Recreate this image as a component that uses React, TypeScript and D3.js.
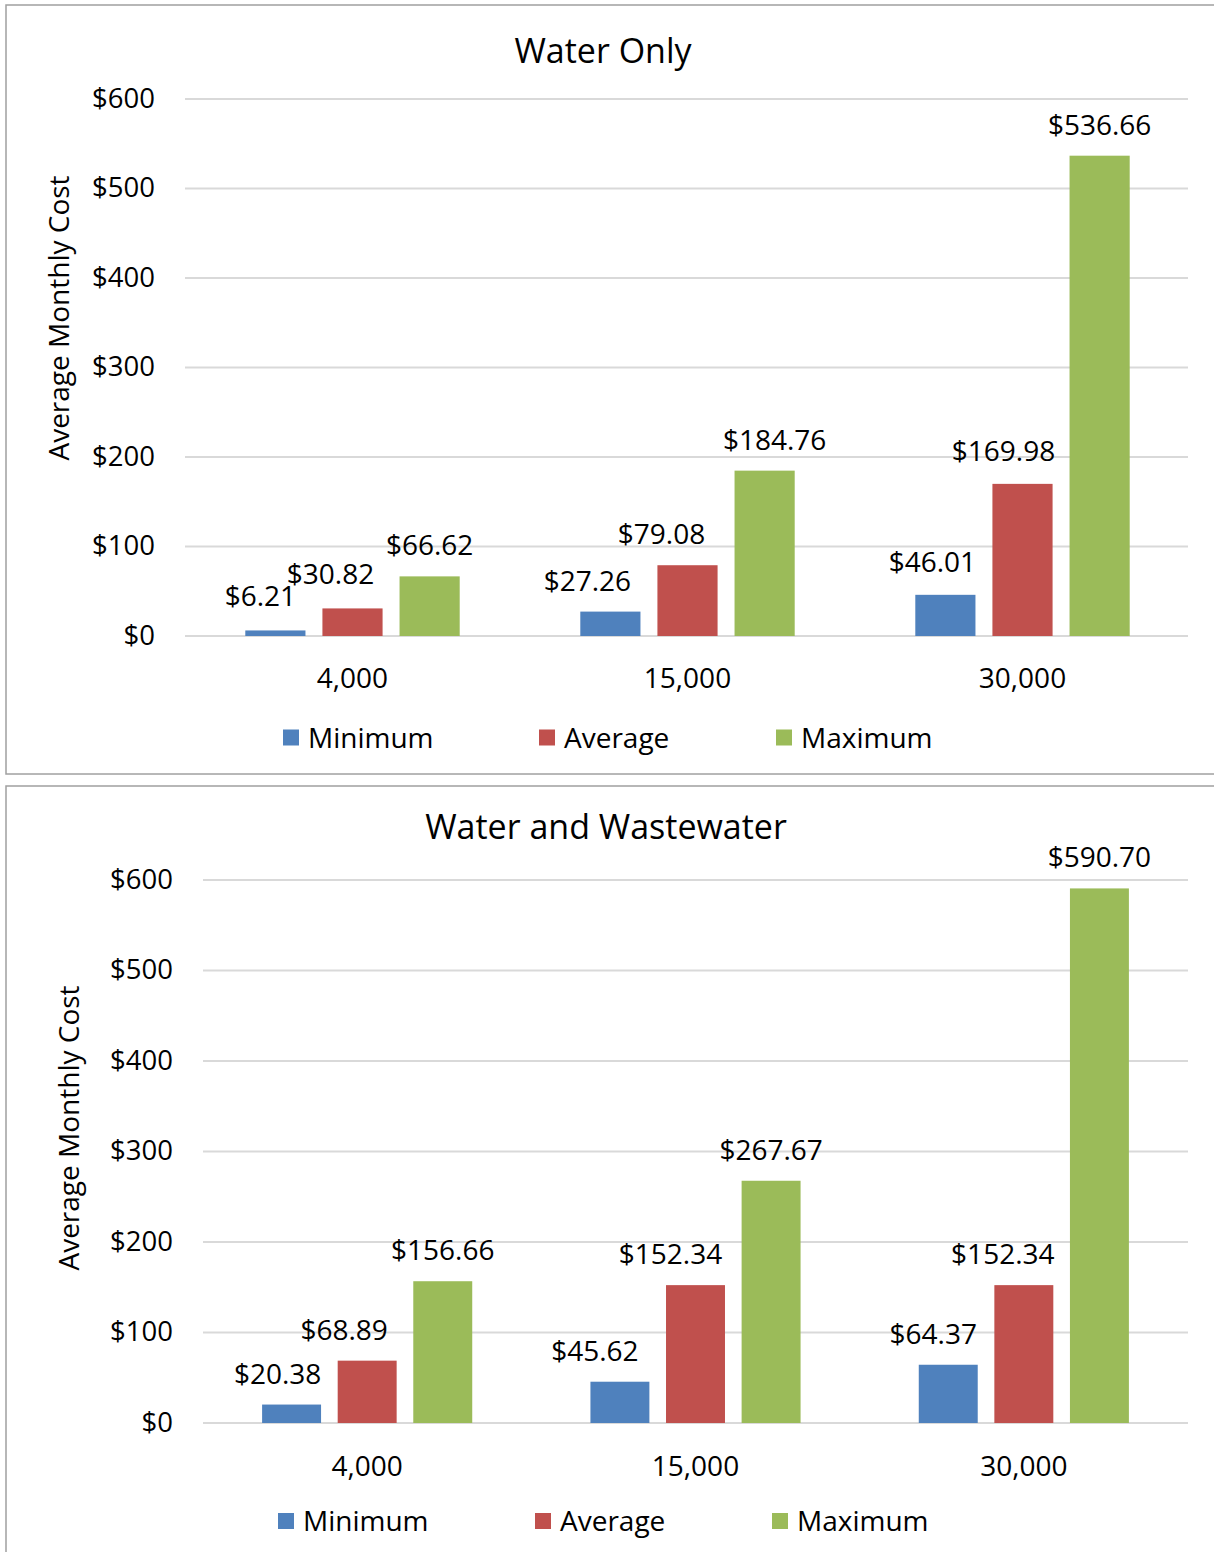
import React from "react";
import * as d3 from "d3";

// ---- data ----
const categories = ["4,000", "15,000", "30,000"];
const seriesNames = ["Minimum", "Average", "Maximum"];
const seriesColors = ["#4F81BD", "#C0504D", "#9BBB59"];
const yTicks = [0, 100, 200, 300, 400, 500, 600];

const waterOnlyMin = [6.21, 27.26, 46.01];
const waterOnlyAvg = [30.82, 79.08, 169.98];
const waterOnlyMax = [66.62, 184.76, 536.66];

const wastewaterMin = [20.38, 45.62, 64.37];
const wastewaterAvg = [68.89, 152.34, 152.34];
const wastewaterMax = [156.66, 267.67, 590.7];

// ---- label nudges (layout, not data) ----
const topLabelDx = [
  [-15, -23, -13],
  [-22, -26, -19],
  [0, 10, 0],
];
const topLabelDy = [
  [3, 0, 2],
  [3, 0, 2],
  [0, 0, 0],
];
const bottomLabelDx = [
  [-14, -25, -15],
  [-23, -25, -21],
  [0, 0, 0],
];
const bottomLabelDy = [
  [0, 0, 0],
  [0, 0, 0],
  [0, 0, 0],
];

const FONT = "'Open Sans', 'Noto Sans', sans-serif";
const fmtTick = (v: number) => "$" + d3.format(",")(v);
const fmtLabel = (v: number) => "$" + d3.format(",.2f")(v);

type Layout = {
  frameY: number;
  frameH: number;
  plotL: number;
  plotR: number;
  gridR: number;
  yBottom: number;
  yTop: number;
  tickX: number;
  titleX: number;
  titleY: number;
  yTitleX: number;
  yTitleY: number;
  catDy: number;
  legendY: number;
  legendXs: number[];
};

const topLayout: Layout = {
  frameY: 5,
  frameH: 769,
  plotL: 185,
  plotR: 1190,
  gridR: 1188,
  yBottom: 636,
  yTop: 99,
  tickX: 155,
  titleX: 603,
  titleY: 63,
  yTitleX: 69,
  yTitleY: 318,
  catDy: 52,
  legendY: 737.5,
  legendXs: [283, 539, 776],
};

const bottomLayout: Layout = {
  frameY: 786,
  frameH: 800,
  plotL: 203,
  plotR: 1188,
  gridR: 1188,
  yBottom: 1423,
  yTop: 880,
  tickX: 173,
  titleX: 606,
  titleY: 839,
  yTitleX: 79,
  yTitleY: 1128,
  catDy: 53,
  legendY: 1521,
  legendXs: [278, 535, 772],
};

function Panel({
  title,
  series,
  labelDx,
  labelDy,
  L,
}: {
  title: string;
  series: number[][];
  labelDx: number[][];
  labelDy: number[][];
  L: Layout;
}) {
  const y = d3.scaleLinear().domain([0, 600]).range([L.yBottom, L.yTop]);
  const x0 = d3
    .scaleBand<string>()
    .domain(categories)
    .range([L.plotL, L.plotR])
    .paddingInner(0.36)
    .paddingOuter(0.18);
  const x1 = d3
    .scaleBand<string>()
    .domain(seriesNames)
    .range([0, x0.bandwidth()])
    .paddingInner(0.22);

  return (
    <g>
      <rect
        x={6}
        y={L.frameY}
        width={1220}
        height={L.frameH}
        fill="#fff"
        stroke="#a0a0a0"
        strokeWidth={1.5}
      />
      <text
        x={L.titleX}
        y={L.titleY}
        textAnchor="middle"
        fontSize={34}
        fontFamily={FONT}
        fill="#000"
      >
        {title}
      </text>
      {yTicks.map((t) => (
        <g key={t}>
          <line
            x1={L.plotL}
            x2={L.gridR}
            y1={y(t)}
            y2={y(t)}
            stroke="#d9d9d9"
            strokeWidth={2}
          />
          <text
            x={L.tickX}
            y={y(t) + 8.5}
            textAnchor="end"
            fontSize={27.5}
            fontFamily={FONT}
            fill="#000"
          >
            {fmtTick(t)}
          </text>
        </g>
      ))}
      <text
        transform={`translate(${L.yTitleX},${L.yTitleY}) rotate(-90)`}
        textAnchor="middle"
        fontSize={28}
        fontFamily={FONT}
        fill="#000"
      >
        Average Monthly Cost
      </text>
      {categories.map((c, ci) => (
        <g key={c}>
          {seriesNames.map((s, si) => {
            const v = series[si][ci];
            const bx = (x0(c) as number) + (x1(s) as number);
            const bw = x1.bandwidth();
            return (
              <g key={s}>
                <rect
                  x={bx}
                  y={y(v)}
                  width={bw}
                  height={y(0) - y(v)}
                  fill={seriesColors[si]}
                />
                <text
                  x={bx + bw / 2 + labelDx[si][ci]}
                  y={y(v) - 21 - labelDy[si][ci]}
                  textAnchor="middle"
                  fontSize={28}
                  fontFamily={FONT}
                  fill="#000"
                >
                  {fmtLabel(v)}
                </text>
              </g>
            );
          })}
          <text
            x={(x0(c) as number) + x0.bandwidth() / 2}
            y={L.yBottom + L.catDy}
            textAnchor="middle"
            fontSize={28}
            fontFamily={FONT}
            fill="#000"
          >
            {c}
          </text>
        </g>
      ))}
      {seriesNames.map((s, si) => (
        <g key={s}>
          <rect
            x={L.legendXs[si]}
            y={L.legendY - 8}
            width={16}
            height={16}
            fill={seriesColors[si]}
          />
          <text
            x={L.legendXs[si] + 25}
            y={L.legendY + 10}
            fontSize={28}
            fontFamily={FONT}
            fill="#000"
          >
            {s}
          </text>
        </g>
      ))}
    </g>
  );
}

export default function App() {
  return (
    <svg
      width={1214}
      height={1552}
      style={{ position: "absolute", left: 0, top: 0, background: "#fff" }}
    >
      <rect x={0} y={0} width={1214} height={1552} fill="#fff" />
      <Panel
        title="Water Only"
        series={[waterOnlyMin, waterOnlyAvg, waterOnlyMax]}
        labelDx={topLabelDx}
        labelDy={topLabelDy}
        L={topLayout}
      />
      <Panel
        title="Water and Wastewater"
        series={[wastewaterMin, wastewaterAvg, wastewaterMax]}
        labelDx={bottomLabelDx}
        labelDy={bottomLabelDy}
        L={bottomLayout}
      />
    </svg>
  );
}
